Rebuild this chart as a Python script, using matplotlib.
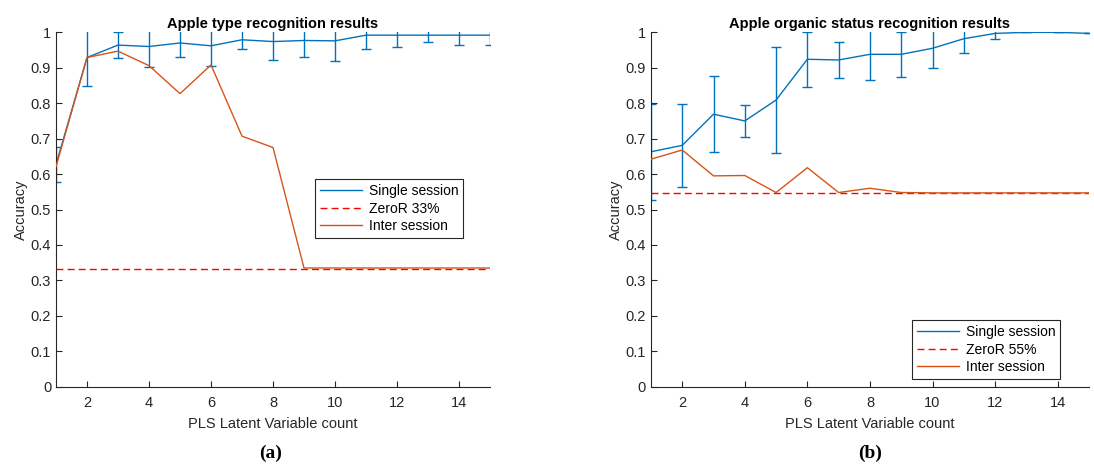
import matplotlib.pyplot as plt
from matplotlib.lines import Line2D
import numpy as np

plt.rcParams['font.family'] = ['Liberation Sans', 'DejaVu Sans']

# PLS latent variable count
lv = np.arange(1, 16)

# (a) apple type
type_single = [0.627, 0.929, 0.964, 0.960, 0.970, 0.962, 0.979, 0.974, 0.977, 0.976,
               0.992, 0.992, 0.992, 0.992, 0.992]
type_err = [0.05, 0.08, 0.037, 0.058, 0.041, 0.056, 0.027, 0.051, 0.046, 0.056,
            0.038, 0.032, 0.02, 0.027, 0.027]
type_inter = [0.621, 0.929, 0.947, 0.906, 0.827, 0.908, 0.707, 0.675, 0.335, 0.335,
              0.335, 0.335, 0.335, 0.335, 0.335]
type_zeror = 0.333

# (b) organic status
org_single = [0.663, 0.681, 0.769, 0.750, 0.809, 0.924, 0.922, 0.938, 0.938, 0.955,
              0.982, 0.997, 1.0, 1.0, 0.997]
org_err = [0.135, 0.117, 0.108, 0.046, 0.15, 0.077, 0.05, 0.073, 0.064, 0.057,
           0.04, 0.017, 0.0, 0.0, 0.0]
org_inter = [0.642, 0.668, 0.595, 0.596, 0.548, 0.618, 0.548, 0.560, 0.548, 0.547,
             0.547, 0.547, 0.547, 0.547, 0.547]
org_zeror = 0.547

blue = '#0072BD'
orange = '#D95319'
red = '#FF0000'
dark = '#262626'

fig = plt.figure(figsize=(10.94, 4.70), dpi=100)
ax1 = fig.add_axes([0.0512, 0.1772, 0.3967, 0.754])
ax2 = fig.add_axes([0.595, 0.1772, 0.4004, 0.754])


def draw(ax, single, err, inter, zeror, title, zlabel, legloc):
    ax.errorbar(lv, single, yerr=err, color=blue, lw=1.0, capsize=3.5,
                elinewidth=1.0, capthick=1.0, zorder=2)
    ax.plot([1, 15], [zeror, zeror], color=red, ls=(0, (5, 3)), lw=1.0, zorder=3)
    ax.plot(lv, inter, color=orange, lw=1.0, zorder=4)
    ax.set_xlim(1, 15)
    ax.set_ylim(0, 1)
    ax.set_xticks(range(2, 15, 2))
    ax.set_yticks(np.arange(0, 1.01, 0.1))
    ax.set_yticklabels(['0', '0.1', '0.2', '0.3', '0.4', '0.5', '0.6', '0.7',
                        '0.8', '0.9', '1'])
    for s in ['top', 'right']:
        ax.spines[s].set_visible(False)
    for s in ['left', 'bottom']:
        ax.spines[s].set_color(dark)
        ax.spines[s].set_linewidth(0.8)
    ax.tick_params(direction='in', length=4, colors=dark, labelsize=10.5)
    ax.tick_params(axis='x', pad=7)
    ax.set_title(title, fontsize=10.5, fontweight='bold', color='black', pad=3)
    ax.set_xlabel('PLS Latent Variable count', fontsize=10.5, color=dark,
                  labelpad=5)
    ax.set_ylabel('Accuracy', fontsize=10.5, color=dark, labelpad=2)
    handles = [Line2D([], [], color=blue, lw=1.0),
               Line2D([], [], color=red, ls=(0, (5, 3)), lw=1.0),
               Line2D([], [], color=orange, lw=1.0)]
    labels = ['Single session', zlabel, 'Inter session']
    leg = ax.legend(handles, labels, loc=legloc, fontsize=10, fancybox=False,
                    framealpha=1, edgecolor=dark, borderpad=0.35,
                    handlelength=3.0, handletextpad=0.5, labelspacing=0.25,
                    borderaxespad=0)
    leg.get_frame().set_linewidth(0.8)


draw(ax1, type_single, type_err, type_inter, type_zeror,
     'Apple type recognition results', 'ZeroR 33%', (0.597, 0.42))
draw(ax2, org_single, org_err, org_inter, org_zeror,
     'Apple organic status recognition results', 'ZeroR 55%', (0.597, 0.022))

fig.text(0.247, 0.025, '(a)', ha='center', fontsize=14, fontweight='bold',
         family=['Liberation Serif', 'DejaVu Serif'])
fig.text(0.795, 0.025, '(b)', ha='center', fontsize=14, fontweight='bold',
         family=['Liberation Serif', 'DejaVu Serif'])

fig.savefig('out.png', dpi=100)
